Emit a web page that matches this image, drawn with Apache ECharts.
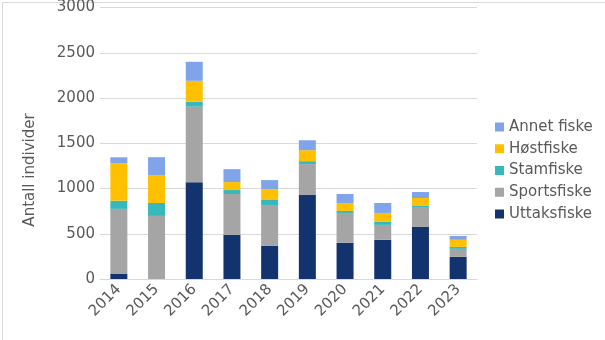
<!DOCTYPE html>
<html>
<head>
<meta charset="utf-8">
<script src="https://cdn.jsdelivr.net/npm/echarts@6/dist/echarts.min.js"></script>
<style>
  html, body { margin: 0; padding: 0; background: #fff; }
  #chart { width: 605px; height: 340px; }
</style>
</head>
<body>
<div id="chart"></div>
<script>
// Catch per year, split by fishery type
const years = ['2014', '2015', '2016', '2017', '2018', '2019', '2020', '2021', '2022', '2023'];
const uttaksfiske = [60, 0, 1070, 487, 366, 928, 400, 433, 576, 245];
const sportsfiske = [715, 697, 835, 452, 452, 341, 330, 165, 220, 88];
const stamfiske   = [90, 143, 55, 44, 55, 33, 22, 33, 11, 22];
const hostfiske   = [415, 308, 230, 88, 121, 121, 88, 99, 88, 78];
const annetFiske  = [65, 198, 210, 143, 99, 110, 99, 110, 66, 43];
const yTicks = [0, 500, 1000, 1500, 2000, 2500, 3000];

const textColor = '#595959';
const font = 'DejaVu Sans';

function bar(name, data, color) {
  return {
    name: name,
    type: 'bar',
    stack: 'total',
    barWidth: 17,
    data: data,
    itemStyle: { color: color },
    emphasis: { disabled: true }
  };
}

const chart = echarts.init(document.getElementById('chart'));
chart.setOption({
  animation: false,
  textStyle: { fontFamily: font },
  grid: { left: 100, right: 128, top: 7, bottom: 61, containLabel: false },
  legend: {
    orient: 'vertical',
    left: 490,
    top: 113,
    itemWidth: 9,
    itemHeight: 9,
    itemGap: 3.75,
    icon: 'rect',
    textStyle: { color: textColor, fontSize: 15, fontFamily: font, lineHeight: 18 },
    data: ['Annet fiske', 'Høstfiske', 'Stamfiske', 'Sportsfiske', 'Uttaksfiske']
  },
  xAxis: {
    type: 'category',
    data: years,
    axisTick: { show: false },
    axisLine: { lineStyle: { color: '#d9d9d9' } },
    axisLabel: { rotate: 45, color: textColor, fontSize: 15, fontFamily: font, margin: 8 }
  },
  yAxis: {
    type: 'value',
    min: yTicks[0],
    max: yTicks[yTicks.length - 1],
    interval: yTicks[1] - yTicks[0],
    axisLine: { show: false },
    axisTick: { show: false },
    splitLine: { lineStyle: { color: '#d9d9d9' } },
    axisLabel: {
      color: textColor, fontSize: 15, fontFamily: font, margin: 5,
      formatter: function (v) { return String(v); }
    }
  },
  graphic: [
    {
      type: 'rect',
      left: 0, top: 0,
      shape: { x: 0.5, y: 0.5, width: 604, height: 339 },
      style: { fill: 'none', stroke: '#d9d9d9', lineWidth: 1 },
      silent: true
    },
    {
      type: 'text',
      x: 30, y: 170,
      rotation: Math.PI / 2,
      style: {
        text: 'Antall individer',
        fill: textColor,
        font: '15px "DejaVu Sans"',
        align: 'center',
        verticalAlign: 'middle'
      }
    }
  ],
  series: [
    bar('Uttaksfiske', uttaksfiske, '#13336F'),
    bar('Sportsfiske', sportsfiske, '#A5A5A5'),
    bar('Stamfiske', stamfiske, '#36B8BC'),
    bar('Høstfiske', hostfiske, '#FFC000'),
    bar('Annet fiske', annetFiske, '#80A4EA')
  ]
});
</script>
</body>
</html>
